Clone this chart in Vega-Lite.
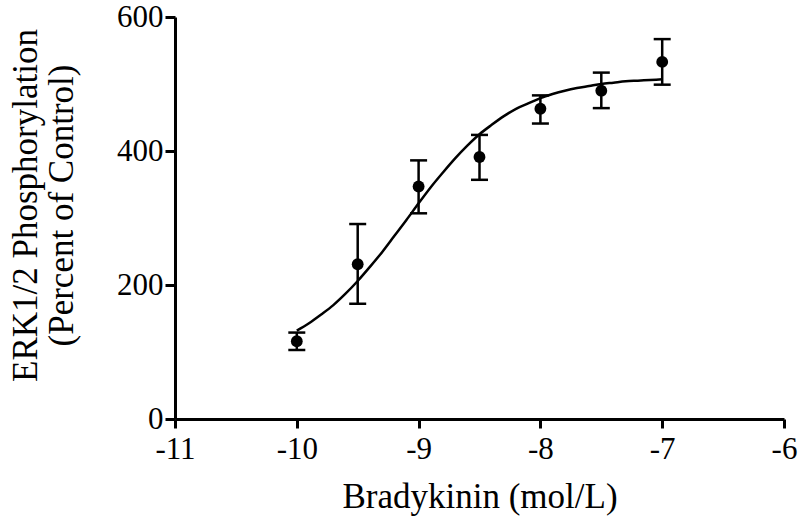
{
  "$schema": "https://vega.github.io/schema/vega-lite/v6.json",
  "width": 609,
  "height": 402,
  "autosize": {"type": "none"},
  "padding": {"left": 175, "top": 17, "right": 16, "bottom": 100},
  "background": "white",
  "config": {
    "view": {"stroke": null},
    "axis": {
      "grid": false,
      "domainColor": "black",
      "tickColor": "black",
      "domainWidth": 3,
      "tickWidth": 3,
      "labelColor": "black",
      "titleColor": "black",
      "labelFont": "Liberation Serif",
      "titleFont": "Liberation Serif",
      "titleFontWeight": "normal"
    }
  },
  "datasets": {
    "points": [
      {"x": -10, "mean": 116, "lo": 103, "hi": 129},
      {"x": -9.5, "mean": 231, "lo": 172, "hi": 291},
      {"x": -9, "mean": 347, "lo": 307, "hi": 386},
      {"x": -8.5, "mean": 391, "lo": 357, "hi": 424},
      {"x": -8, "mean": 463, "lo": 441, "hi": 483},
      {"x": -7.5, "mean": 490, "lo": 464, "hi": 517},
      {"x": -7, "mean": 533, "lo": 499, "hi": 567}
    ],
    "curve": [
      {"x": -10, "y": 132},
      {"x": -9.9, "y": 143},
      {"x": -9.8, "y": 156},
      {"x": -9.7, "y": 170},
      {"x": -9.6, "y": 187},
      {"x": -9.5, "y": 206},
      {"x": -9.4, "y": 227},
      {"x": -9.3, "y": 249},
      {"x": -9.2, "y": 273},
      {"x": -9.1, "y": 297},
      {"x": -9.0, "y": 322},
      {"x": -8.9, "y": 346},
      {"x": -8.8, "y": 368},
      {"x": -8.7, "y": 389},
      {"x": -8.6, "y": 408},
      {"x": -8.5, "y": 425},
      {"x": -8.4, "y": 439},
      {"x": -8.3, "y": 452},
      {"x": -8.2, "y": 463},
      {"x": -8.1, "y": 471},
      {"x": -8.0, "y": 479},
      {"x": -7.9, "y": 485},
      {"x": -7.8, "y": 490},
      {"x": -7.7, "y": 494},
      {"x": -7.6, "y": 497},
      {"x": -7.5, "y": 500},
      {"x": -7.4, "y": 502},
      {"x": -7.3, "y": 504},
      {"x": -7.2, "y": 505},
      {"x": -7.1, "y": 506},
      {"x": -7.0, "y": 507}
    ]
  },
  "encoding": {
    "x": {
      "type": "quantitative",
      "scale": {"domain": [-11, -6], "nice": false, "zero": false},
      "axis": {
        "title": "Bradykinin (mol/L)",
        "values": [-11, -10, -9, -8, -7, -6],
        "labelExpr": "'' + datum.value",
        "labelFontSize": 31,
        "titleFontSize": 35,
        "tickSize": 9,
        "labelPadding": 6,
        "labelFlush": false,
        "labelOverlap": false,
        "titleBaseline": "alphabetic",
        "titleY": 88
      }
    },
    "y": {
      "type": "quantitative",
      "scale": {"domain": [0, 600], "nice": false},
      "axis": {
        "title": ["ERK1/2 Phosphorylation", "(Percent of Control)"],
        "values": [0, 200, 400, 600],
        "labelFontSize": 31,
        "titleFontSize": 35,
        "titleLineHeight": 36,
        "tickSize": 10,
        "labelPadding": 2,
        "labelOverlap": false,
        "titleX": -132,
        "titleY": 188
      }
    }
  },
  "layer": [
    {
      "data": {"name": "curve"},
      "mark": {"type": "line", "color": "black", "strokeWidth": 2.5, "interpolate": "monotone"},
      "encoding": {"x": {"field": "x"}, "y": {"field": "y"}}
    },
    {
      "data": {"name": "points"},
      "mark": {"type": "rule", "color": "black", "strokeWidth": 2.5},
      "encoding": {"x": {"field": "x"}, "y": {"field": "lo"}, "y2": {"field": "hi"}}
    },
    {
      "data": {"name": "points"},
      "mark": {"type": "tick", "orient": "horizontal", "color": "black", "size": 17, "thickness": 2.5, "opacity": 1},
      "encoding": {"x": {"field": "x"}, "y": {"field": "lo"}}
    },
    {
      "data": {"name": "points"},
      "mark": {"type": "tick", "orient": "horizontal", "color": "black", "size": 17, "thickness": 2.5, "opacity": 1},
      "encoding": {"x": {"field": "x"}, "y": {"field": "hi"}}
    },
    {
      "data": {"name": "points"},
      "mark": {"type": "point", "filled": true, "color": "black", "size": 140, "opacity": 1},
      "encoding": {"x": {"field": "x"}, "y": {"field": "mean"}}
    }
  ]
}
